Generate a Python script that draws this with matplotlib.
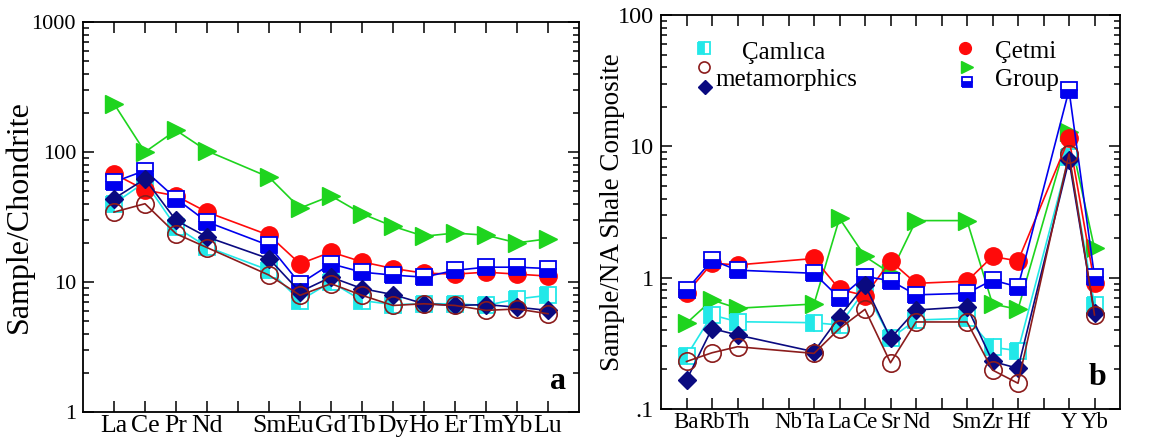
import numpy as np
import matplotlib
matplotlib.use("Agg")
import matplotlib.pyplot as plt
from matplotlib.ticker import LogLocator, FixedLocator, NullFormatter, FixedFormatter

plt.rcParams['font.family'] = ['Liberation Serif', 'DejaVu Serif']

# ---------------- data ----------------
# (a) chondrite-normalised REE; blank slot = Pm (no data)
ree_labels = ['La', 'Ce', 'Pr', 'Nd', '', 'Sm', 'Eu', 'Gd', 'Tb', 'Dy', 'Ho', 'Er', 'Tm', 'Yb', 'Lu']
nan = np.nan
ree_cetmi_red   = [68, 51, 46, 34.5, nan, 22.9, 13.8, 17, 14.3, 12.7, 11.7, 11.5, 11.9, 11.5, 11.1]
ree_cetmi_green = [235, 100, 147, 102, nan, 64, 37, 46, 33.5, 26.8, 22.5, 23.8, 22.9, 20, 21.5]
ree_cetmi_blue  = [58.8, 72, 43.8, 29, nan, 19.1, 9.7, 13.8, 11.9, 11.3, 10.9, 12.3, 13, 13, 12.7]
ree_caml_cyan   = [40, 58.8, 26.5, 18.6, nan, 12.3, 7.2, 10, 7.2, 6.7, 6.8, 6.8, 6.6, 7.4, 7.9]
ree_caml_brown  = [34.5, 40, 23.5, 18.4, nan, 11.3, 7.9, 9.7, 7.9, 6.6, 6.8, 6.6, 6.05, 6.2, 5.7]
ree_caml_navy   = [43.8, 62, 29.8, 22.2, nan, 15.1, 8.4, 10.9, 8.9, 8.0, 6.8, 6.6, 6.7, 6.4, 6.05]

# (b) NASC-normalised trace elements; blank slots carry no data
te_labels = ['Ba', 'Rb', 'Th', '', 'Nb', 'Ta', 'La', 'Ce', 'Sr', 'Nd', '', 'Sm', 'Zr', 'Hf', '', 'Y', 'Yb']
te_cetmi_red   = [0.76, 1.29, 1.25, nan, nan, 1.40, 0.815, 0.73, 1.34, 0.905, nan, 0.94, 1.45, 1.34, nan, 11.5, 0.905]
te_cetmi_green = [0.45, 0.676, 0.585, nan, nan, 0.63, 2.83, 1.45, 1.08, 2.72, nan, 2.72, 0.63, 0.574, nan, 12.9, 1.67]
te_cetmi_blue  = [0.805, 1.36, 1.14, nan, nan, 1.08, 0.70, 1.02, 0.95, 0.74, nan, 0.76, 0.96, 0.85, nan, 26.8, 1.02]
te_caml_cyan   = [0.253, 0.52, 0.462, nan, nan, 0.454, 0.436, 0.805, 0.345, 0.476, nan, 0.49, 0.295, 0.278, nan, 8.34, 0.62]
te_caml_brown  = [0.23, 0.268, 0.298, nan, nan, 0.265, 0.41, 0.574, 0.225, 0.46, nan, 0.46, 0.198, 0.157, nan, 8.74, 0.52]
te_caml_navy   = [0.166, 0.41, 0.366, nan, nan, 0.273, 0.505, 0.88, 0.345, 0.567, nan, 0.60, 0.23, 0.204, nan, 7.87, 0.535]

# ---------------- styles ----------------
C_CYAN, C_BROWN, C_NAVY = '#22E8E8', '#8B1C1C', '#0A0A80'
C_RED, C_GREEN, C_BLUE = '#FF0A0A', '#1ED41E', '#0000EE'

styles = {
    'cyan':  dict(color=C_CYAN, marker='s', mfc=C_CYAN, mec=C_CYAN, fillstyle='left',
                  markerfacecoloralt='white', ms=11.5, mew=1.3),
    'red':   dict(color=C_RED, marker='o', mfc=C_RED, mec=C_RED, ms=12.5, mew=1.0),
    'blue':  dict(color=C_BLUE, marker='s', mfc=C_BLUE, mec=C_BLUE, fillstyle='bottom',
                  markerfacecoloralt='white', ms=11.5, mew=1.3),
    'green': dict(color=C_GREEN, marker='>', mfc=C_GREEN, mec=C_GREEN, ms=13, mew=1.0),
    'navy':  dict(color=C_NAVY, marker='D', mfc=C_NAVY, mec=C_NAVY, ms=9, mew=1.0),
    'brown': dict(color=C_BROWN, marker='o', mfc='none', mec=C_BROWN, ms=12.5, mew=1.2),
}


def draw_series(ax, values, style):
    y = np.asarray(values, dtype=float)
    x = np.arange(len(y))
    ok = ~np.isnan(y)
    ax.plot(x[ok], y[ok], lw=1.2, **style)


def style_axes(ax, labels, ylim, yticks, yticklabels, xfs, yfs):
    ax.set_yscale('log')
    ax.set_ylim(*ylim)
    ax.set_xlim(-1, len(labels))
    ax.xaxis.set_major_locator(FixedLocator(np.arange(len(labels))))
    ax.xaxis.set_major_formatter(FixedFormatter(labels))
    ax.xaxis.set_minor_locator(FixedLocator([]))
    ax.yaxis.set_major_locator(FixedLocator(yticks))
    ax.yaxis.set_major_formatter(FixedFormatter(yticklabels))
    ax.yaxis.set_minor_locator(LogLocator(base=10, subs=np.arange(2, 10)))
    ax.yaxis.set_minor_formatter(NullFormatter())
    ax.tick_params(which='both', direction='in', top=True, right=True, width=1.1)
    ax.tick_params(which='major', length=8)
    ax.tick_params(which='minor', length=4.5)
    ax.tick_params(axis='x', labelsize=xfs, pad=2)
    ax.tick_params(axis='y', labelsize=yfs, pad=5)
    for s in ax.spines.values():
        s.set_linewidth(1.3)


fig = plt.figure(figsize=(11.75, 4.41), dpi=100)

# ---------------- panel a ----------------
axa = fig.add_axes([83 / 1175, 29 / 441, 496 / 1175, 390 / 441])
for vals, key in [(ree_cetmi_green, 'green'), (ree_caml_cyan, 'cyan'), (ree_cetmi_red, 'red'),
                  (ree_cetmi_blue, 'blue'), (ree_caml_navy, 'navy'), (ree_caml_brown, 'brown')]:
    draw_series(axa, vals, styles[key])
style_axes(axa, ree_labels, (1, 1000), [1, 10, 100, 1000], ['1', '10', '100', '1000'], 18.5, 16)
axa.set_ylabel('Sample/Chondrite', fontsize=23)
axa.yaxis.set_label_coords(-0.100, 0.5)
axa.text(0.958, 0.077, 'a', transform=axa.transAxes, fontsize=23, fontweight='bold',
         ha='center', va='center')

# ---------------- panel b ----------------
axb = fig.add_axes([661 / 1175, 32 / 441, 459 / 1175, 394 / 441])
for vals, key in [(te_cetmi_green, 'green'), (te_caml_cyan, 'cyan'), (te_cetmi_red, 'red'),
                  (te_cetmi_blue, 'blue'), (te_caml_navy, 'navy'), (te_caml_brown, 'brown')]:
    draw_series(axb, vals, styles[key])
style_axes(axb, te_labels, (0.1, 100), [0.1, 1, 10, 100], ['.1', '1', '10', '100'], 16.5, 17.5)
axb.set_ylabel('Sample/NA Shale Composite', fontsize=19.5)
axb.yaxis.set_label_coords(-0.078, 0.5)
axb.text(0.95, 0.079, 'b', transform=axb.transAxes, fontsize=23, fontweight='bold',
         ha='center', va='center')

# legend block: marker keys and group names
def key_marker(ax, x, y, key, ms):
    st = dict(styles[key])
    st.pop('color')
    st['ms'] = ms
    ax.plot([x], [y], transform=ax.transAxes, linestyle='none', clip_on=False, **st)

key_marker(axb, 0.0937, 0.916, 'cyan', 8)
key_marker(axb, 0.0937, 0.868, 'brown', 8)
key_marker(axb, 0.0959, 0.817, 'navy', 7.5)
key_marker(axb, 0.662, 0.916, 'red', 8.5)
key_marker(axb, 0.667, 0.868, 'green', 9)
key_marker(axb, 0.667, 0.830, 'blue', 7.5)
axb.text(0.268, 0.904, 'Çamlıca', transform=axb.transAxes, fontsize=18, ha='center', va='center')
axb.text(0.118, 0.835, 'metamorphics', transform=axb.transAxes, fontsize=18, ha='left', va='center')
axb.text(0.728, 0.906, 'Çetmi', transform=axb.transAxes, fontsize=18, ha='left', va='center')
axb.text(0.728, 0.835, 'Group', transform=axb.transAxes, fontsize=18, ha='left', va='center')

fig.savefig('out.png', dpi=100)
